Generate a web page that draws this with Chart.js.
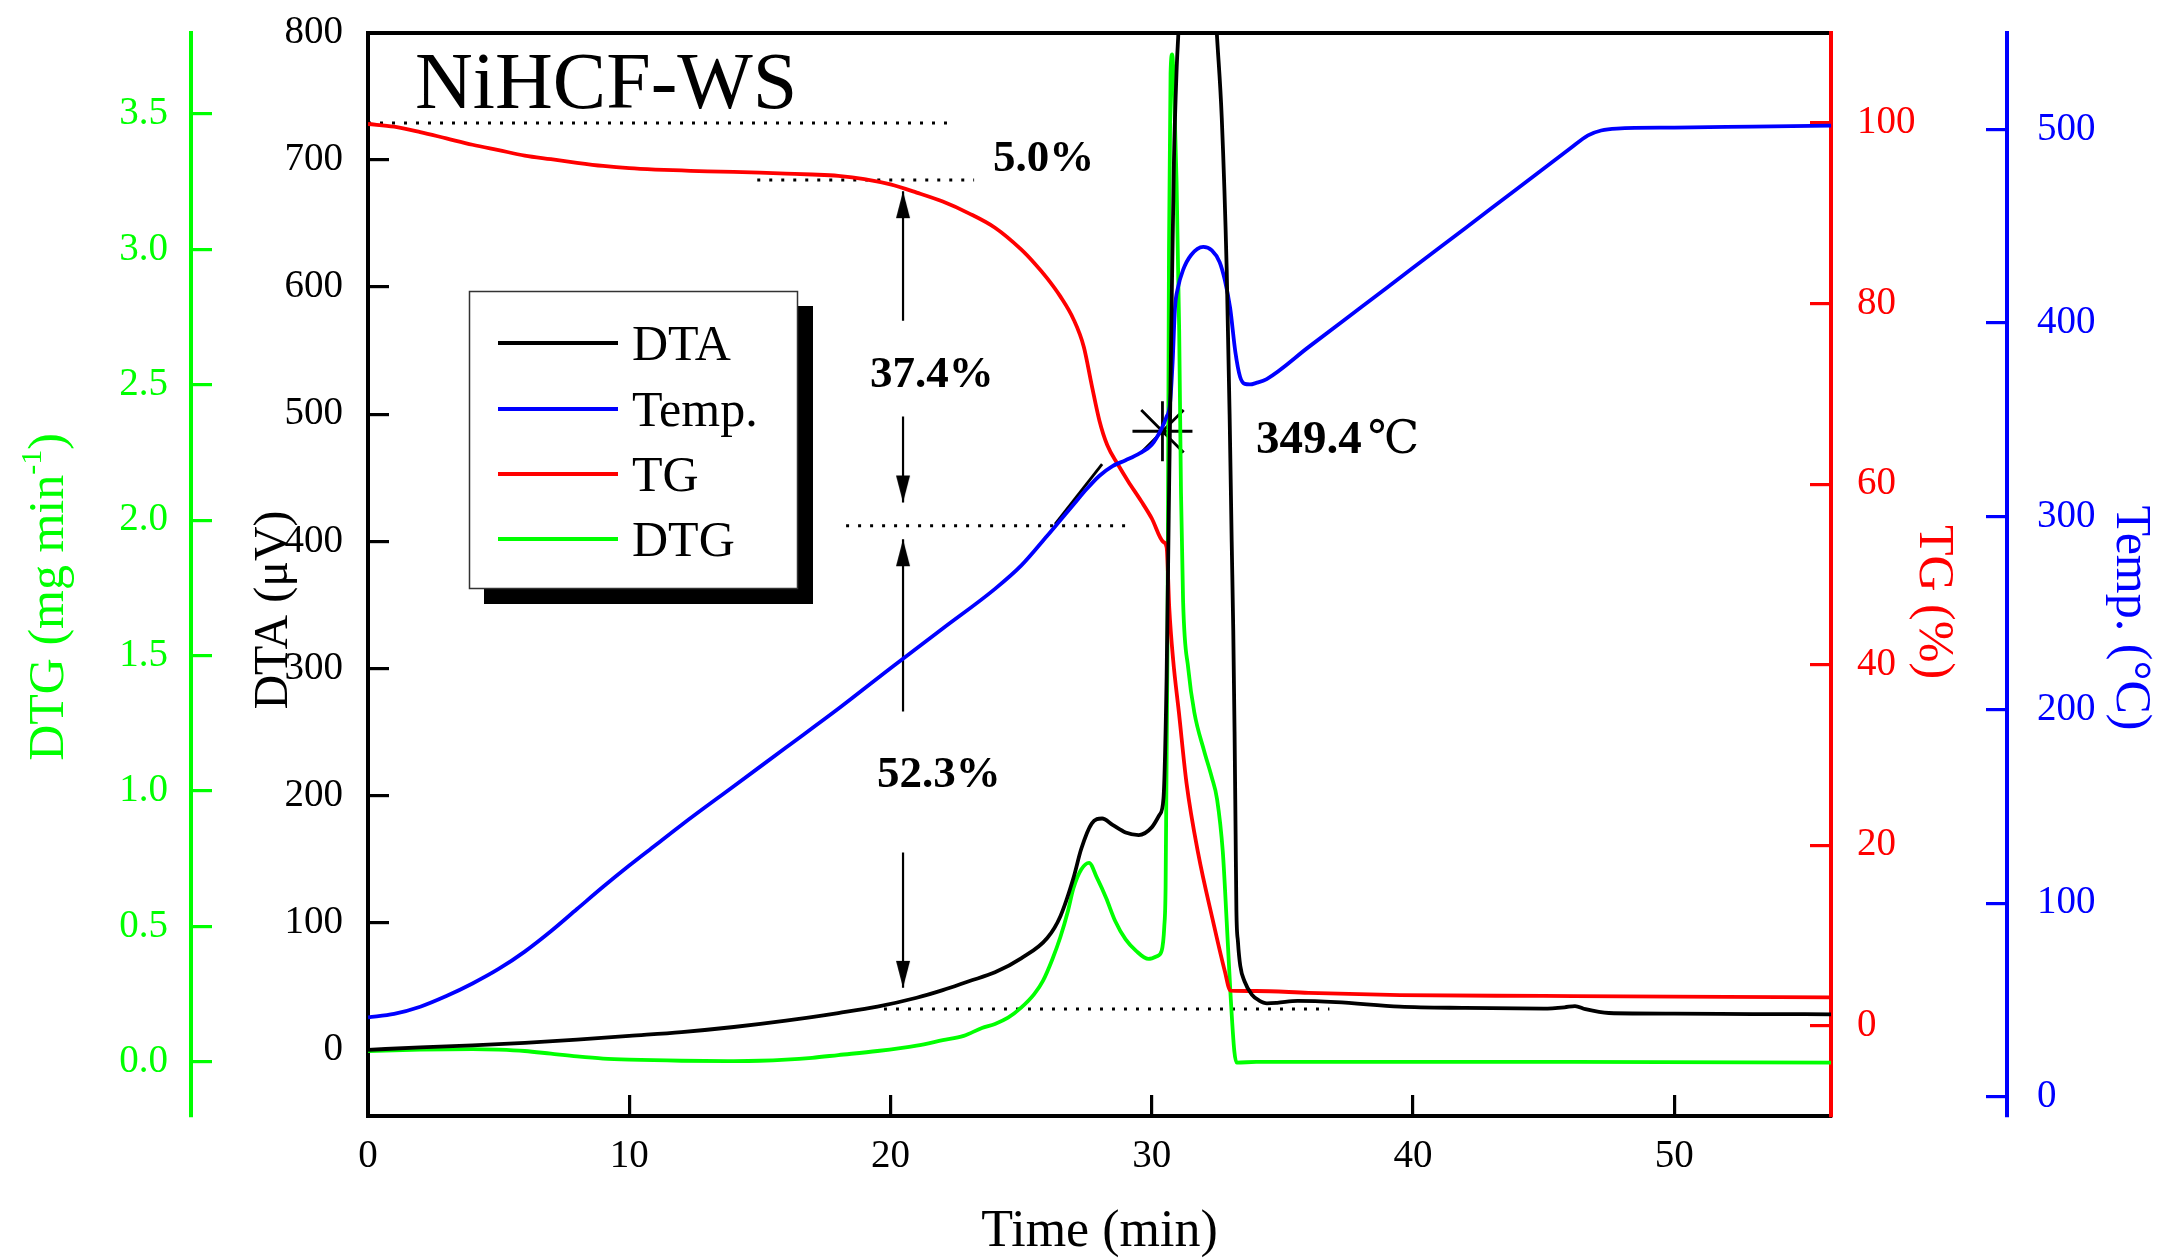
<!DOCTYPE html>
<html>
<head>
<meta charset="utf-8">
<script src="https://cdn.jsdelivr.net/npm/chart.js@4.4.1/dist/chart.umd.min.js"></script>
<style>
html,body{margin:0;padding:0;background:#fff;}
canvas{display:block;}
</style>
</head>
<body>
<canvas id="c" width="2165" height="1260"></canvas>
<script>
// ---------- tick labels ----------
const timeTicks = [0, 10, 20, 30, 40, 50];
const dtaTicks = [0, 100, 200, 300, 400, 500, 600, 700, 800];
const dtgTicks = [0, 0.5, 1.0, 1.5, 2.0, 2.5, 3.0, 3.5];
const tgTicks = [0, 20, 40, 60, 80, 100];
const tempTicks = [0, 100, 200, 300, 400, 500];

// ---------- series ----------
const seriesNames = ['DTA', 'Temp.', 'TG', 'DTG'];

const dtaTime = [0, 2, 4, 6, 8, 10, 12, 14, 16, 18, 19.5, 21, 22, 23, 24, 25, 26, 26.5, 27, 27.3, 27.7, 28.1, 28.5, 29, 29.5, 30, 30.3, 30.45, 30.57, 30.65, 30.75, 30.85, 30.95, 31.02, 31.15, 31.3, 31.6, 31.9, 32.2, 32.49, 32.68, 32.87, 32.98, 33.06, 33.12, 33.17, 33.21, 33.24, 33.3, 33.39, 33.55, 33.83, 34.1, 34.41, 34.8, 35.58, 37.05, 39.5, 42, 45, 45.8, 46.2, 46.6, 47.5, 50, 53, 56];
const dtaValues = [0, 2, 3.5, 5.5, 8, 11, 14, 18, 23, 29, 34, 41, 47, 54, 61, 72, 88, 105, 135, 158, 178, 182, 177, 171, 169, 175, 185, 198, 294, 420, 570, 700, 770, 800, 860, 920, 960, 965, 910, 800, 733, 613, 500, 400, 330, 250, 170, 110, 85, 66, 54, 43.5, 39, 36.6, 37, 38.5, 37.6, 34, 33, 32.5, 33.5, 34.5, 32, 29, 28.5, 28.2, 28];

const tempTime = [0, 1, 2, 3, 4, 5, 6, 7, 8, 9, 10, 11, 12, 14, 16, 18, 20, 22, 24, 25, 26, 26.5, 27, 27.5, 28, 28.5, 29, 29.55, 30, 30.38, 30.55, 30.7, 30.8, 30.89, 31.0, 31.2, 31.5, 31.97, 32.3, 32.6, 32.8, 33.0, 33.2, 33.38, 33.56, 33.76, 34.0, 34.4, 36, 38, 40, 42, 44, 46, 46.7, 47.2, 47.8, 50, 53, 56];
const tempValues = [41, 42.8, 46.5, 52, 58.5, 66, 75, 85.5, 97, 108.5, 119.5, 130, 140.5, 160.5, 180.5, 200.5, 221.5, 242, 262.5, 274.5, 290, 298, 306, 314, 321, 326, 329, 332.7, 337, 345.5, 351, 358.4, 380, 407.8, 418, 427.4, 435, 439.3, 437.5, 431.4, 422, 407.8, 385, 372.2, 368.5, 368.2, 369, 371, 387.5, 408, 428.5, 449, 469.5, 490, 497, 499.5, 500.5, 501, 501.5, 502];

const tgTime = [0, 1, 2, 3, 4, 5, 6, 7, 8, 9, 10, 11, 12, 13, 14, 15, 16, 17, 18, 19, 20, 21, 22, 23, 24, 25, 25.5, 26, 26.5, 27, 27.4, 27.7, 28, 28.3, 28.7, 29.1, 29.6, 30, 30.44, 30.57, 30.67, 30.82, 31.04, 31.33, 31.77, 32.36, 32.8, 33.01, 34, 36, 39.5, 45, 50, 56];
const tgValues = [99.9, 99.6, 99.0, 98.3, 97.6, 97.0, 96.4, 96.0, 95.6, 95.25, 95.0, 94.85, 94.75, 94.65, 94.6, 94.5, 94.4, 94.3, 94.15, 93.8, 93.2, 92.3, 91.3, 90.0, 88.4, 86.0, 84.5, 82.8, 80.8, 78.3, 75.2, 71, 67, 64.3, 62.2, 60.3, 58.1, 56.2, 53.6, 53.0, 46.3, 40.5, 34.7, 26.9, 19.2, 11.4, 6.0, 3.9, 3.85, 3.65, 3.4, 3.3, 3.22, 3.15];

const dtgTime = [0, 2, 4, 5, 6, 7, 8, 9, 10, 12, 14, 15, 16, 17, 18, 19.5, 21, 22, 22.8, 23.5, 24, 24.5, 25, 25.5, 25.84, 26.2, 26.5, 26.8, 27.0, 27.3, 27.6, 27.9, 28.25, 28.6, 29.0, 29.4, 29.87, 30.2, 30.38, 30.48, 30.53, 30.6, 30.66, 30.72, 30.78, 30.85, 30.95, 31.05, 31.12, 31.2, 31.4, 31.63, 32.0, 32.3, 32.5, 32.72, 32.87, 33.01, 33.16, 33.25, 34, 40, 46, 56];
const dtgValues = [0.04, 0.045, 0.047, 0.045, 0.04, 0.03, 0.02, 0.012, 0.008, 0.004, 0.003, 0.004, 0.008, 0.015, 0.025, 0.04, 0.06, 0.08, 0.096, 0.125, 0.14, 0.163, 0.2, 0.25, 0.3, 0.38, 0.46, 0.56, 0.64, 0.71, 0.735, 0.68, 0.606, 0.52, 0.452, 0.41, 0.38, 0.39, 0.41, 0.5, 0.645, 1.5, 3.0, 3.65, 3.72, 3.6, 3.25, 2.7, 2.1, 1.7, 1.45, 1.29, 1.15, 1.05, 0.97, 0.775, 0.516, 0.258, 0.04, -0.003, 0.0, 0.0, 0.0, -0.003];

// ---------- annotations (in data units) ----------
const dottedLevels = [100, 93.7, 55.4, 1.86];      // TG %
const dottedStart = [0, 14.9, 18.3, 19.75];        // min
const dottedEnd = [22.4, 23.2, 29.3, 36.8];        // min
const arrowTime = 20.48;                            // min
const arrowTips = [92.46, 57.97, 53.9, 4.2];       // TG %
const arrowTails = [78.1, 67.5, 34.8, 19.2];       // TG %
const onsetTime = [30.41];
const onsetTemp = [344];
const tangentTime = [26.3, 28.1];
const tangentTemp = [296, 327];
const stepLabels = ['5.0%', '37.4%', '52.3%'];
const onsetLabel = '349.4';

// ---------- helpers ----------
const FONT = '"Liberation Serif", "Times New Roman", serif';
function pts(xs, ys) { return xs.map((x, i) => ({x: x, y: ys[i]})); }

function arrowHead(up) {
  const c = document.createElement('canvas');
  c.width = 16; c.height = 60;
  const g = c.getContext('2d');
  g.fillStyle = '#000';
  g.beginPath();
  if (up) { g.moveTo(8, 30); g.lineTo(1, 57); g.lineTo(15, 57); }
  else { g.moveTo(8, 30); g.lineTo(1, 3); g.lineTo(15, 3); }
  g.closePath(); g.fill();
  return c;
}
const upHead = arrowHead(true), downHead = arrowHead(false);

const dottedData = [];
dottedLevels.forEach((lv, i) => {
  dottedData.push({x: dottedStart[i], y: lv}, {x: dottedEnd[i], y: lv}, {x: dottedEnd[i], y: null});
});
const shaftData = [];
arrowTips.forEach((tip, i) => {
  shaftData.push({x: arrowTime, y: tip}, {x: arrowTime, y: arrowTails[i]}, {x: arrowTime, y: null});
});
const headData = arrowTips.map(t => ({x: arrowTime, y: t}));
const headStyles = arrowTips.map((t, i) => t > arrowTails[i] ? upHead : downHead);

const colors = {DTA: '#000000', Temp: '#0000ff', TG: '#ff0000', DTG: '#00ff00'};

const mainLine = (label, xs, ys, color, axis) => ({
  label: label, data: pts(xs, ys), borderColor: color, backgroundColor: color,
  yAxisID: axis, borderWidth: 3.8, pointRadius: 0, cubicInterpolationMode: 'monotone', fill: false
});

const datasets = [
  mainLine(seriesNames[0], dtaTime, dtaValues, colors.DTA, 'yDTA'),
  mainLine(seriesNames[1], tempTime, tempValues, colors.Temp, 'yTemp'),
  mainLine(seriesNames[2], tgTime, tgValues, colors.TG, 'yTG'),
  mainLine(seriesNames[3], dtgTime, dtgValues, colors.DTG, 'yDTG'),
  {label: 'dotted', data: dottedData, yAxisID: 'yTG', borderColor: '#000', borderWidth: 3,
   borderDash: [3, 9], pointRadius: 0, spanGaps: false},
  {label: 'shafts', data: shaftData, yAxisID: 'yTG', borderColor: '#000', borderWidth: 2.2,
   pointRadius: 0, spanGaps: false},
  {label: 'heads', data: headData, yAxisID: 'yTG', showLine: false, pointRadius: 5,
   pointStyle: headStyles},
  {label: 'tangent', data: pts(tangentTime, tangentTemp), yAxisID: 'yTemp', borderColor: '#000',
   borderWidth: 2.8, pointRadius: 0},
  {label: 'onset', data: pts(onsetTime, onsetTemp), yAxisID: 'yTemp', showLine: false,
   pointStyle: 'star', pointRadius: 30, pointBorderColor: '#000', pointBorderWidth: 2.8,
   pointBackgroundColor: 'rgba(0,0,0,0)'}
];

function fixTicks(list) { return (scale) => { scale.ticks = list.map(v => ({value: v})); }; }
function noPad(s) { s.paddingTop = 0; s.paddingBottom = 0; s.paddingLeft = 0; s.paddingRight = 0; }

function yAxis(pos, weight, min, max, color, list, width, pad, cb) {
  return {
    type: 'linear', position: pos, weight: weight, min: min, max: max,
    afterBuildTicks: fixTicks(list),
    afterFit: (s) => { s.width = width; noPad(s); },
    grid: {drawOnChartArea: false, drawTicks: true, tickLength: -21, color: color, lineWidth: 3.2},
    border: {display: true, color: color, width: 4},
    ticks: {color: color, padding: pad, font: {family: FONT, size: 39}, autoSkip: false,
            callback: cb || ((v) => String(v))},
    title: {display: false}
  };
}

const overlay = {
  id: 'overlay',
  afterDraw(chart) {
    const ctx = chart.ctx;
    ctx.save();
    // Legend with shadow
    ctx.fillStyle = '#000';
    ctx.fillRect(484, 306, 329, 298);
    ctx.fillStyle = '#fff';
    ctx.fillRect(469, 291, 329, 298);
    ctx.strokeStyle = '#333';
    ctx.lineWidth = 1.5;
    ctx.strokeRect(469.5, 291.5, 328, 297);
    const rows = [343, 409, 474, 539];
    ctx.font = '50px ' + FONT;
    ctx.textBaseline = 'alphabetic';
    ctx.textAlign = 'left';
    for (let i = 0; i < 4; i++) {
      const ds = chart.data.datasets[i];
      ctx.strokeStyle = ds.borderColor;
      ctx.lineWidth = 3.8;
      ctx.beginPath(); ctx.moveTo(498, rows[i]); ctx.lineTo(618, rows[i]); ctx.stroke();
      ctx.fillStyle = '#000';
      ctx.fillText(ds.label, 632, rows[i] + 17);
    }
    // Sample name
    ctx.font = '80px ' + FONT;
    ctx.fillText('NiHCF-WS', 415, 108);
    // Step labels
    ctx.font = 'bold 45px ' + FONT;
    ctx.fillText(stepLabels[0], 993, 171);
    ctx.fillText(stepLabels[1], 870, 387);
    ctx.fillText(stepLabels[2], 877, 787);
    ctx.font = 'bold 47px ' + FONT;
    ctx.fillText(onsetLabel, 1256, 453);
    const w = ctx.measureText(onsetLabel).width;
    ctx.font = '46px ' + FONT + ', "DejaVu Serif", "Noto Sans CJK SC"';
    ctx.fillText('\u2103', 1256 + w + 6, 453);

    // Axis titles
    ctx.save();
    ctx.translate(63, 597);
    ctx.rotate(-Math.PI / 2);
    ctx.fillStyle = colors.DTG;
    ctx.font = '50px ' + FONT;
    const a = 'DTG (mg min', b = '-1', c = ')';
    const wa = ctx.measureText(a).width, wc = ctx.measureText(c).width;
    ctx.font = '30px ' + FONT;
    const wb = ctx.measureText(b).width;
    let x0 = -(wa + wb + wc) / 2;
    ctx.font = '50px ' + FONT;
    ctx.fillText(a, x0, 0);
    ctx.font = '30px ' + FONT;
    ctx.fillText(b, x0 + wa, -22);
    ctx.font = '50px ' + FONT;
    ctx.fillText(c, x0 + wa + wb, 0);
    ctx.restore();

    ctx.save();
    ctx.translate(287, 610);
    ctx.rotate(-Math.PI / 2);
    ctx.fillStyle = '#000';
    ctx.font = '48px ' + FONT;
    ctx.textAlign = 'center';
    ctx.fillText('DTA (\u03bcV)', 0, 0);
    ctx.restore();

    ctx.save();
    ctx.translate(1920, 602);
    ctx.rotate(Math.PI / 2);
    ctx.fillStyle = colors.TG;
    ctx.font = '50px ' + FONT;
    ctx.textAlign = 'center';
    ctx.fillText('TG (%)', 0, 0);
    ctx.restore();

    ctx.save();
    ctx.translate(2117, 618);
    ctx.rotate(Math.PI / 2);
    ctx.fillStyle = colors.Temp;
    ctx.font = '50px ' + FONT;
    ctx.textAlign = 'center';
    ctx.fillText('Temp. (\u00b0C)', 0, 0);
    ctx.restore();

    ctx.restore();
  }
};

new Chart(document.getElementById('c'), {
  type: 'line',
  data: {datasets: datasets},
  plugins: [overlay],
  options: {
    responsive: false,
    animation: false,
    devicePixelRatio: 1,
    layout: {padding: 0},
    plugins: {legend: {display: false}, tooltip: {enabled: false}},
    elements: {line: {tension: 0}},
    scales: {
      x: {
        type: 'linear', position: 'bottom', min: 0, max: 56,
        afterBuildTicks: fixTicks(timeTicks),
        afterFit: (s) => { s.height = 144; noPad(s); },
        grid: {drawOnChartArea: false, drawTicks: true, tickLength: -21, color: '#000', lineWidth: 3.2},
        border: {display: true, color: '#000', width: 4},
        ticks: {color: '#000', padding: 38, maxRotation: 0, autoSkip: false,
                font: {family: FONT, size: 39}},
        title: {display: true, text: 'Time (min)', color: '#000',
                font: {family: FONT, size: 52, lineHeight: 1}, padding: {top: 0, bottom: 1.5}}
      },
      xTop: {
        type: 'linear', position: 'top', min: 0, max: 56,
        afterFit: (s) => { s.height = 30; noPad(s); },
        grid: {display: true, drawOnChartArea: false, drawTicks: false},
        border: {display: true, color: '#000', width: 4},
        ticks: {display: false}
      },
      yDTG: yAxis('left', 2, -0.2, 3.8, colors.DTG, dtgTicks, 191, 44, (v) => v.toFixed(1)),
      yDTA: yAxis('left', 1, -52, 800, '#000', dtaTicks, 177, 46),
      yTG: yAxis('right', 1, -10, 110, colors.TG, tgTicks, 176, 47),
      yTemp: yAxis('right', 2, -10, 550, colors.Temp, tempTicks, 158, 51)
    }
  }
});
</script>
</body>
</html>
